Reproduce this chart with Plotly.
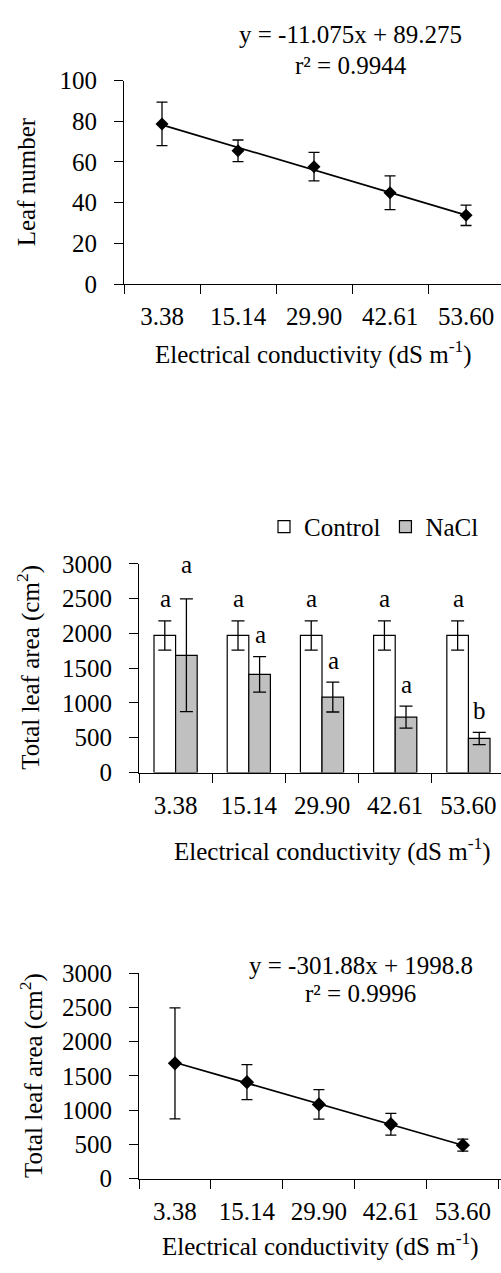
import plotly.graph_objects as go

# ---------------- data ----------------
categories = ["3.38", "15.14", "29.90", "42.61", "53.60"]

leaf_mean = [78.7, 65.5, 57.7, 44.9, 33.8]
leaf_err = [10.7, 5.3, 7.0, 8.3, 5.0]
leaf_slope, leaf_intercept = -11.075, 89.275

control_mean = [1970, 1970, 1970, 1970, 1970]
control_err = [210, 210, 210, 210, 210]
nacl_mean = [1685, 1410, 1085, 795, 490]
nacl_err = [810, 255, 215, 158, 88]
control_letters = ["a", "a", "a", "a", "a"]
nacl_letters = ["a", "a", "a", "a", "b"]

area_slope, area_intercept = -301.88, 1998.8

y1_ticks = [0, 20, 40, 60, 80, 100]
y2_ticks = [0, 500, 1000, 1500, 2000, 2500, 3000]

# ---------------- layout helpers ----------------
W, H = 501, 1273
FONT = "Liberation Serif"
FS = 25


def px_x(p):
    return p / W


def px_y(p):
    return 1 - p / H


fig = go.Figure()

# ---- top chart: leaf number ----
trend_leaf = [leaf_slope * (i + 1) + leaf_intercept for i in range(len(categories))]
fig.add_trace(go.Scatter(x=categories, y=trend_leaf, mode="lines",
                         line=dict(color="black", width=1.7),
                         showlegend=False, xaxis="x", yaxis="y", hoverinfo="skip"))
fig.add_trace(go.Scatter(x=categories, y=leaf_mean, mode="markers",
                         marker=dict(symbol="diamond", size=10, color="black"),
                         error_y=dict(type="data", array=leaf_err, color="black",
                                      thickness=1.3, width=5.5),
                         showlegend=False, xaxis="x", yaxis="y"))

# ---- middle chart: bars ----
fig.add_trace(go.Bar(x=categories, y=control_mean, name="Control",
                     marker=dict(color="white", line=dict(color="black", width=1.2)),
                     error_y=dict(type="data", array=control_err, color="black",
                                  thickness=1.3, width=6.5),
                     xaxis="x2", yaxis="y2"))
fig.add_trace(go.Bar(x=categories, y=nacl_mean, name="NaCl",
                     marker=dict(color="#c0c0c0", line=dict(color="black", width=1.2)),
                     error_y=dict(type="data", array=nacl_err, color="black",
                                  thickness=1.3, width=6.5),
                     xaxis="x2", yaxis="y2"))

# ---- bottom chart: total leaf area NaCl ----
trend_area = [area_slope * (i + 1) + area_intercept for i in range(len(categories))]
fig.add_trace(go.Scatter(x=categories, y=trend_area, mode="lines",
                         line=dict(color="black", width=1.7),
                         showlegend=False, xaxis="x3", yaxis="y3", hoverinfo="skip"))
fig.add_trace(go.Scatter(x=categories, y=nacl_mean, mode="markers",
                         marker=dict(symbol="diamond", size=11, color="black"),
                         error_y=dict(type="data", array=nacl_err, color="black",
                                      thickness=1.3, width=5.5),
                         showlegend=False, xaxis="x3", yaxis="y3"))

axis_common = dict(showline=True, linecolor="black", linewidth=1.2,
                   ticks="outside", ticklen=9, tickwidth=1.2, tickcolor="black",
                   showgrid=False, zeroline=False,
                   tickfont=dict(family=FONT, size=FS, color="black"))

xcat = dict(type="category", categoryorder="array", categoryarray=categories,
            tickson="boundaries", ticklabelstandoff=10, **axis_common)

fig.update_layout(
    width=W, height=H,
    margin=dict(l=0, r=0, t=0, b=0),
    paper_bgcolor="white", plot_bgcolor="white",
    font=dict(family=FONT, size=FS, color="black"),
    barmode="group", bargap=0.41, bargroupgap=0,
    showlegend=True,
    legend=dict(orientation="h", x=px_x(484), xanchor="right",
                y=px_y(525), yanchor="middle",
                font=dict(family=FONT, size=FS, color="black"),
                bgcolor="rgba(0,0,0,0)", itemwidth=30, tracegroupgap=0),
    xaxis=dict(domain=[px_x(124), 1], range=[-0.5, 4.46], anchor="y", **xcat),
    yaxis=dict(domain=[px_y(277), px_y(69)], range=[0, 100], tickvals=y1_ticks,
               anchor="x", ticklabelstandoff=12, **axis_common),
    xaxis2=dict(domain=[px_x(139), 1], range=[-0.5, 4.445], anchor="y2", **xcat),
    yaxis2=dict(domain=[px_y(776), px_y(562.7)], range=[0, 3000], tickvals=y2_ticks,
                anchor="x2", ticklabelstandoff=12, **axis_common),
    xaxis3=dict(domain=[px_x(139), 1], range=[-0.5, 4.53], anchor="y3", **xcat),
    yaxis3=dict(domain=[px_y(1191), px_y(981)], range=[0, 3000], tickvals=y2_ticks,
                anchor="x3", ticklabelstandoff=12, **axis_common),
)

ann = []
xtitle = "Electrical conductivity (dS m<sup>-1</sup>)"
ann.append(dict(text=xtitle, x=px_x(313), y=px_y(347)))
ann.append(dict(text=xtitle, x=px_x(332), y=px_y(855)))
ann.append(dict(text=xtitle, x=px_x(320), y=px_y(1258)))
ann.append(dict(text="Leaf number", x=px_x(26), y=px_y(173), textangle=-90))
ann.append(dict(text="Total leaf area (cm<sup>2</sup>)", x=px_x(29), y=px_y(669), textangle=-90))
ann.append(dict(text="Total leaf area (cm<sup>2</sup>)", x=px_x(32), y=px_y(1086), textangle=-90))
ann.append(dict(text="y = -11.075x + 89.275", x=px_x(350), y=px_y(22)))
ann.append(dict(text="r² = 0.9944", x=px_x(351), y=px_y(54)))
ann.append(dict(text="y = -301.88x + 1998.8", x=px_x(361), y=px_y(973)))
ann.append(dict(text="r² = 0.9996", x=px_x(360), y=px_y(1002)))
for a in ann:
    a.update(xref="paper", yref="paper", showarrow=False,
             xanchor="center", yanchor="middle",
             font=dict(family=FONT, size=FS, color="black"))

# significance letters above bars
nacl_shift = [31, 19, 19, 19, 19]
for i in range(len(categories)):
    ann.append(dict(text=control_letters[i], x=i - 0.14, y=control_mean[i] + control_err[i],
                    xref="x2", yref="y2", showarrow=False, xanchor="center",
                    yanchor="middle", yshift=22,
                    font=dict(family=FONT, size=FS, color="black")))
    ann.append(dict(text=nacl_letters[i], x=i + 0.155, y=nacl_mean[i] + nacl_err[i],
                    xref="x2", yref="y2", showarrow=False, xanchor="center",
                    yanchor="middle", yshift=nacl_shift[i] + 3,
                    font=dict(family=FONT, size=FS, color="black")))

fig.update_layout(annotations=ann)

fig.write_html("out.html")
